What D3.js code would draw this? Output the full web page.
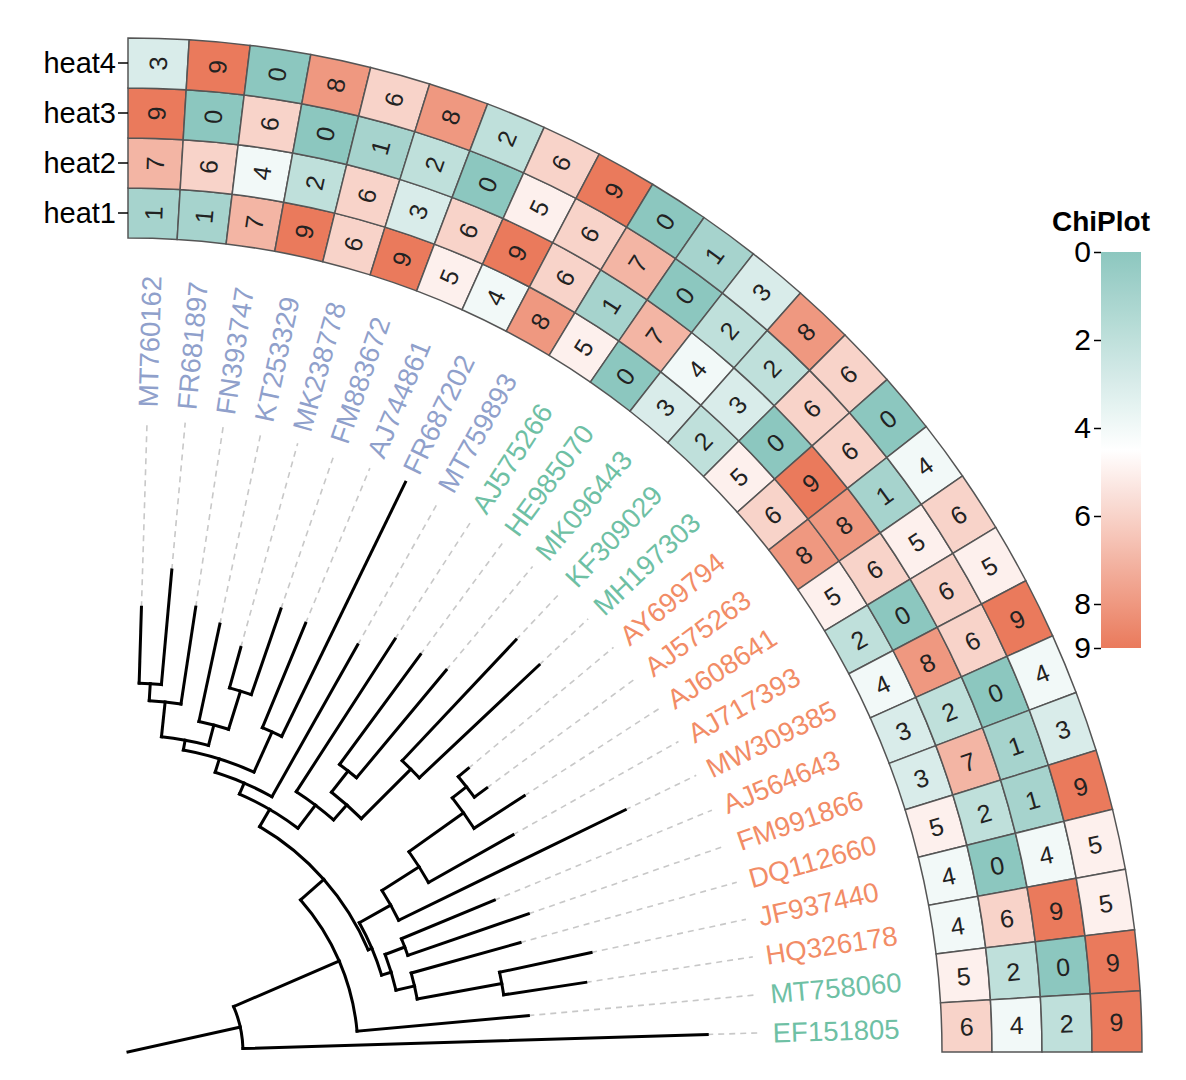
<!DOCTYPE html>
<html>
<head>
<meta charset="utf-8">
<script src="https://cdn.jsdelivr.net/npm/d3@7"></script>
<style>
  body { margin: 0; background: #fff; }
  svg text { font-family: "Liberation Sans", Arial, Helvetica, sans-serif; }
</style>
</head>
<body>
<svg id="chart" width="1186" height="1080"></svg>
<script>
// ---------------- data ----------------
const leaves = ["MT760162","FR681897","FN393747","KT253329","MK238778","FM883672","AJ744861",
  "FR687202","MT759893","AJ575266","HE985070","MK096443","KF309029","MH197303","AY699794",
  "AJ575263","AJ608641","AJ717393","MW309385","AJ564643","FM991866","DQ112660","JF937440",
  "HQ326178","MT758060","EF151805"];
const leafGroup = ["C","C","C","C","C","C","C","C","C","A","A","A","A","A","B",
  "B","B","B","B","B","B","B","B","B","A","A"];
const heat1 = [1,1,7,9,6,9,5,4,8,5,0,3,2,5,6,8,5,2,4,3,3,5,4,4,5,6];
const heat2 = [7,6,4,2,6,3,6,9,6,1,7,4,3,0,9,8,6,0,8,2,7,2,0,6,2,4];
const heat3 = [9,0,6,0,1,2,0,5,6,7,0,2,2,6,6,1,5,6,6,0,1,1,4,9,0,2];
const heat4 = [3,9,0,8,6,8,2,6,9,0,1,3,8,6,0,4,6,5,9,4,3,9,5,5,9,9];
const heatNames = ["heat1","heat2","heat3","heat4"];
const legendTicks = [0,2,4,6,8,9];
const legendTitle = "ChiPlot";
// tree edges: [parent, child, branch length]
const treeEdges = [
  ["R","N1",0.115],
  ["N1","A",0.115],["N1","EF151805",0.4645],
  ["A","B",0.031],["A","MT758060",0.172],
  ["B","X",0.020],["B","Y",0.004],
  ["X","N08",0.012],["X","P",0.029],
  ["N08","N07",0.014],["N08","MT759893",0.1745],
  ["N07","N05",0.010],["N07","N67",0.044],
  ["N05","N012",0.035],["N05","N345",0.021],
  ["N012","N01",0.017],["N012","FN393747",0.098],
  ["N01","MT760162",0.076],["N01","FR681897",0.115],
  ["N345","KT253329",0.0996],["N345","N45",0.040],
  ["N45","MK238778",0.042],["N45","FM883672",0.0907],
  ["N67","AJ744861",0.113],["N67","FR687202",0.2827],
  ["P","AJ575266",0.1818],["P","Q",0.020],
  ["Q","N1011",0.027],["Q","N1213",0.070],
  ["N1011","HE985070",0.1364],["N1011","MK096443",0.140],
  ["N1213","KF309029",0.166],["N1213","MH197303",0.1646],
  ["Y","C",0.036],["Y","W",0.010],
  ["C","D",0.044],["C","MW309385",0.252],
  ["D","E",0.067],["D","AJ717393",0.097],
  ["E","N1415",0.018],["E","AJ608641",0.0598],
  ["N1415","AY699794",0.013],["N1415","AJ575263",0.0154],
  ["W","N1920",0.021],["W","V",0.019],
  ["N1920","AJ564643",0.1005],["N1920","FM991866",0.1275],
  ["V","DQ112660",0.113],["V","N2223",0.086],
  ["N2223","JF937440",0.0936],["N2223","HQ326178",0.083]
];
const heatData = [heat1, heat2, heat3, heat4];
const groupColors = {A:"#6ec0a4", B:"#f28c66", C:"#8fa0cb"};

// ---------------- layout ----------------
const cx = 128, cy = 1052;
const svg = d3.select("#chart");
const angle = d3.scaleBand().domain(leaves).range([0, Math.PI/2]);
const ring = d3.scaleBand().domain(heatNames).range([814, 1014]);
const color = d3.scaleLinear().domain([0,4.5,9]).range(["#8cc7bf","#ffffff","#ea7a5c"]);

const rows = [{id:"R", parent:null, len:0}].concat(treeEdges.map(e => ({id:e[1], parent:e[0], len:e[2]})));
const root = d3.stratify().id(d => d.id).parentId(d => d.parent)(rows);
root.eachBefore(n => { n.dist = n.parent ? n.parent.dist + n.data.len : 0; });
root.eachAfter(n => {
  n.theta = n.children ? d3.mean(n.children, c => c.theta) : angle(n.id) + angle.bandwidth()/2;
});
const rScale = d3.scaleLinear().domain([0, d3.max(root.leaves(), d => d.dist)]).range([0, 633.7]);
const pt = (t, r) => [cx + r*Math.sin(t), cy - r*Math.cos(t)];
const deg = t => t*180/Math.PI;

// dashed leaders
const labelR = 645, dashEnd = 632;
svg.append("g").selectAll("line").data(root.leaves().filter(d => rScale(d.dist) < dashEnd - 2)).join("line")
  .attr("x1", d => pt(d.theta, rScale(d.dist))[0]).attr("y1", d => pt(d.theta, rScale(d.dist))[1])
  .attr("x2", d => pt(d.theta, dashEnd)[0]).attr("y2", d => pt(d.theta, dashEnd)[1])
  .attr("stroke", "#c8c8c8").attr("stroke-width", 1.6).attr("stroke-dasharray", "6,5");

// tree branches
const gTree = svg.append("g").attr("fill","none").attr("stroke","#000").attr("stroke-width",3)
  .attr("stroke-linecap","square");
gTree.selectAll("path.radial").data(root.descendants().filter(d => d.parent)).join("path")
  .attr("class","radial")
  .attr("d", d => { const a = pt(d.theta, rScale(d.parent.dist)), b = pt(d.theta, rScale(d.dist));
    return `M${a[0]},${a[1]}L${b[0]},${b[1]}`; });
gTree.selectAll("path.arc").data(root.descendants().filter(d => d.children && d.children.length > 1)).join("path")
  .attr("class","arc")
  .attr("d", d => { const r = rScale(d.dist);
    const t0 = d3.min(d.children, c => c.theta), t1 = d3.max(d.children, c => c.theta);
    const a = pt(t0, r), b = pt(t1, r);
    return `M${a[0]},${a[1]}A${r},${r} 0 0 1 ${b[0]},${b[1]}`; });

// leaf labels
svg.append("g").selectAll("text").data(root.leaves()).join("text")
  .attr("transform", d => { const p = pt(d.theta, labelR); return `translate(${p[0]},${p[1]}) rotate(${deg(d.theta)-90})`; })
  .attr("dy","0.36em").attr("font-size", 27.5)
  .attr("fill", d => groupColors[leafGroup[leaves.indexOf(d.id)]])
  .text(d => d.id);

// heatmap
const cellArc = d3.arc();
const cells = [];
heatNames.forEach((h, hi) => leaves.forEach((l, li) => cells.push({h, l, v: heatData[hi][li]})));
const gHeat = svg.append("g").attr("transform", `translate(${cx},${cy})`);
gHeat.selectAll("path").data(cells).join("path")
  .attr("d", d => cellArc({innerRadius: ring(d.h), outerRadius: ring(d.h) + ring.bandwidth(),
    startAngle: angle(d.l), endAngle: angle(d.l) + angle.bandwidth()}))
  .attr("fill", d => color(d.v)).attr("stroke", "#555").attr("stroke-width", 1.5);
gHeat.selectAll("text").data(cells).join("text")
  .attr("transform", d => { const t = angle(d.l) + angle.bandwidth()/2, r = ring(d.h) + ring.bandwidth()/2;
    return `translate(${r*Math.sin(t)},${-r*Math.cos(t)}) rotate(${deg(t)-90})`; })
  .attr("text-anchor","middle").attr("dy","0.36em").attr("font-size", 25).attr("fill","#222")
  .text(d => d.v);

// heat ring labels
const gHL = svg.append("g");
heatNames.forEach(h => {
  const y = cy - (ring(h) + ring.bandwidth()/2);
  gHL.append("line").attr("x1", cx - 10).attr("x2", cx).attr("y1", y).attr("y2", y)
    .attr("stroke","#000").attr("stroke-width",1.5);
  gHL.append("text").attr("x", cx - 12).attr("y", y).attr("dy","0.36em")
    .attr("text-anchor","end").attr("font-size", 29).attr("fill","#000").text(h);
});

// legend
const legX = 1101, legW = 40, legTop = 252, legBot = 648;
const legScale = d3.scaleLinear().domain([0,9]).range([legTop, legBot]);
const grad = svg.append("defs").append("linearGradient").attr("id","lg")
  .attr("x1",0).attr("y1",0).attr("x2",0).attr("y2",1);
d3.range(0, 9.01, 0.5).forEach(v => grad.append("stop").attr("offset", v/9).attr("stop-color", color(v)));
svg.append("rect").attr("x", legX).attr("y", legTop).attr("width", legW).attr("height", legBot - legTop)
  .attr("fill","url(#lg)");
const legAxis = svg.append("g").attr("transform", `translate(${legX},0)`)
  .call(d3.axisLeft(legScale).tickValues(legendTicks).tickSize(7).tickPadding(3).tickFormat(d3.format("d")));
legAxis.select(".domain").remove();
legAxis.selectAll(".tick line").attr("stroke","#000").attr("stroke-width",1.5);
legAxis.selectAll(".tick text").attr("font-size", 30).attr("fill","#000")
  .attr("font-family","Liberation Sans, Arial, sans-serif");
svg.append("text").attr("x", legX).attr("y", 231).attr("text-anchor","middle")
  .attr("font-size", 28).attr("font-weight","bold").text(legendTitle);
</script>
</body>
</html>
